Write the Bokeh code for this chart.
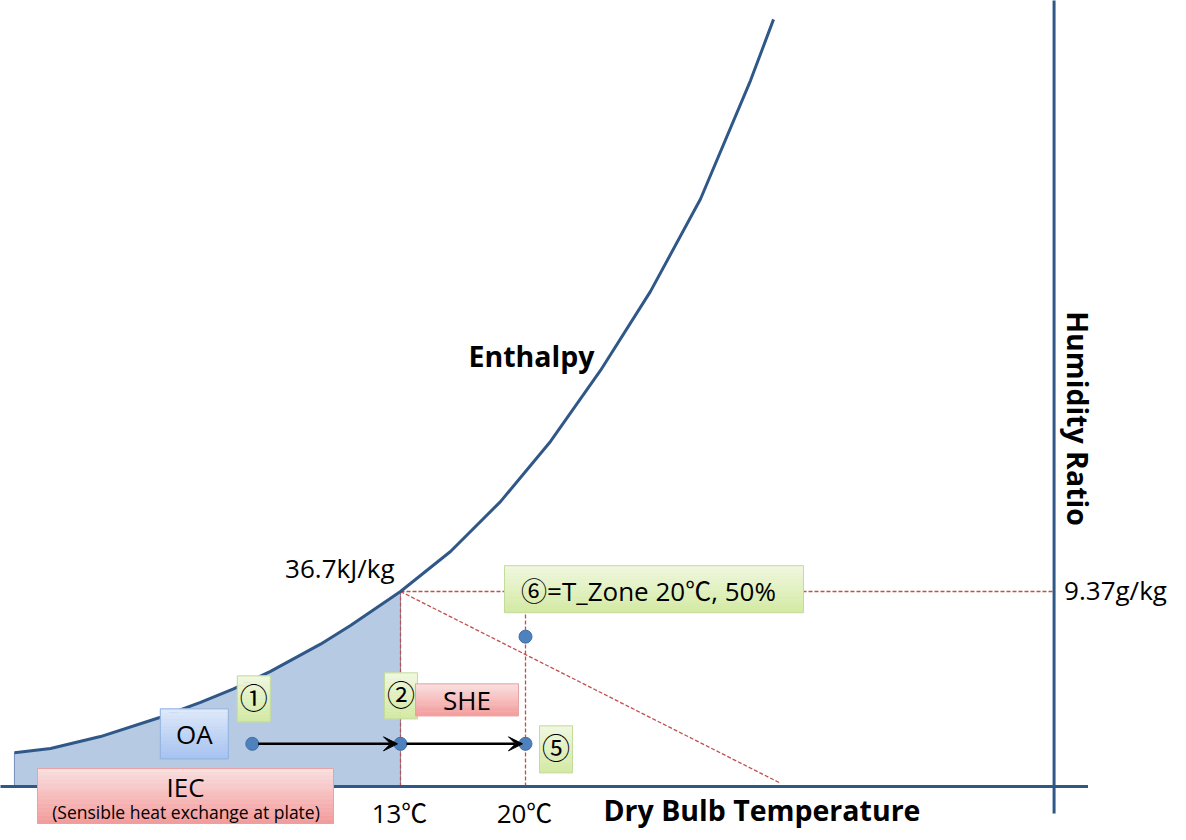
import math
from bokeh.plotting import figure
from bokeh.models import Range1d, Arrow, VeeHead
from bokeh.core.properties import value
from bokeh.embed import file_html
from bokeh.resources import INLINE

# ---------------- data ----------------
# saturation / enthalpy curve: dry-bulb temperature (°C) vs humidity ratio (g/kg)
curve_temp = [-8.62, -6.60, -3.80, -0.44, 1.80, 3.65, 5.72, 8.52, 10.20, 13.00,
              15.80, 18.60, 21.40, 24.20, 27.00, 29.80, 32.60, 33.89]
curve_hr = [1.62, 1.83, 2.40, 3.33, 4.04, 4.69, 5.53, 6.84, 7.74, 9.37,
            11.29, 13.69, 16.58, 19.99, 23.79, 28.23, 33.92, 36.86]

# state points
state_names = ["①", "②", "⑤", "⑥"]
state_temp = [4.7, 13.0, 20.0, 20.0]
state_hr = [2.05, 2.05, 2.05, 7.2]

# saturation reference point
sat_temp = 13.0
sat_hr = 9.37
sat_enthalpy_label = "36.7kJ/kg"
sat_hr_label = "9.37g/kg"

# constant enthalpy line
enth_line_temp = [13.0, 34.3]
enth_line_hr = [9.37, 0.15]

# axis ticks
temp_ticks = [13, 20]
temp_tick_labels = ["13℃", "20℃"]

# extents of the drawn axes
temp_axis_end = 51.5
hr_axis_temp = 49.6
hr_axis_bottom = -1.3

zone_label = "⑥=T_Zone 20℃, 50%"

# ---------------- layout ----------------
SX = 125.0 / 7.0          # px per °C
SY = 195.0 / 9.37         # px per g/kg
W, H = 1182, 836


def ox(px):
    return px / SX


def oy(px):               # screen px (down positive) -> data offset
    return -px / SY


FONT = value("Open Sans, Noto Sans CJK KR")
CURVE = "#2f5888"
RED = "#c0504d"

p = figure(width=W, height=H, output_backend="svg", toolbar_location=None,
           x_range=Range1d(13 - 400 / SX, 13 + (W - 400) / SX),
           y_range=Range1d(-(H - 786) / SY, 786 / SY),
           x_axis_location=None, y_axis_location=None,
           min_border=0, outline_line_color=None,
           background_fill_color="white", border_fill_color="white")
p.grid.grid_line_color = None

# shaded region under the curve up to 13 °C
shade_t = [t for t in curve_temp if t <= sat_temp]
shade_w = [w for t, w in zip(curve_temp, curve_hr) if t <= sat_temp]
p.patch(shade_t + [sat_temp, shade_t[0]], shade_w + [0, 0],
        fill_color="#b7cae3", line_color="#7390b8", line_width=1)

# red dashed guide lines
dash = dict(line_color=RED, line_width=1.3, line_dash="4 2")
p.line([sat_temp, hr_axis_temp], [sat_hr, sat_hr], **dash)
p.line([sat_temp, sat_temp], [0, sat_hr], **dash)
p.line([state_temp[3], state_temp[3]], [0, sat_hr], **dash)
p.line(enth_line_temp, enth_line_hr, **dash)

# axes lines
p.line([p.x_range.start - 1, temp_axis_end], [0, 0], line_color=CURVE, line_width=3)
p.line([hr_axis_temp, hr_axis_temp], [hr_axis_bottom, p.y_range.end + 1],
       line_color=CURVE, line_width=3)

# curve
p.line(curve_temp, curve_hr, line_color=CURVE, line_width=3, line_join="round")

# state points
p.scatter(state_temp, state_hr, size=13, fill_color="#4f81bd", line_color="#3e6fa8")

# arrows 1 -> 2 -> 5
for a, b in [(0, 1), (1, 2)]:
    p.add_layout(Arrow(end=VeeHead(size=14, fill_color="black", line_color="black", line_width=1),
                       x_start=state_temp[a] + ox(6), y_start=state_hr[a],
                       x_end=state_temp[b] - ox(3), y_end=state_hr[b],
                       line_color="black", line_width=2.5))


def mix(c1, c2, f):
    a = [int(c1[i:i + 2], 16) for i in (1, 3, 5)]
    b = [int(c2[i:i + 2], 16) for i in (1, 3, 5)]
    return "#%02x%02x%02x" % tuple(round(x + (y - x) * f) for x, y in zip(a, b))


def gbox(t, w, dx0, dx1, dy0, dy1, top, bot, edge, n=14):
    x0, x1 = t + ox(dx0), t + ox(dx1)
    for i in range(n):
        ya = w + oy(dy0 + (dy1 - dy0) * i / n)
        yb = w + oy(dy0 + (dy1 - dy0) * (i + 1) / n)
        c = mix(top, bot, (i + 0.5) / n)
        p.quad(left=x0, right=x1, top=ya, bottom=yb, fill_color=c, line_color=c, line_width=0.5)
    p.quad(left=x0, right=x1, top=w + oy(dy0), bottom=w + oy(dy1),
           fill_color=None, line_color=edge, line_width=1)


GREEN = ("#f0f8e0", "#d3e9a2", "#c3dc9c")
PINK = ("#fbe1e1", "#f29a9a", "#e6a3a3")
BLUE = ("#dfe9fa", "#a6c3f0", "#8eb0de")

REG = "26px"
BOLD = "28.5px"
CIRC = "28px"


def txt(x, y, s, size=REG, align="center", style="normal", angle=0.0):
    # y is the vertical middle of the capitals
    p.text(x=[x], y=[y], text=[s], text_font=FONT, text_font_size=size,
           text_align=align, text_baseline="middle", text_font_style=style,
           text_color="black", angle=angle)


t1, w1 = state_temp[0], state_hr[0]
t2, w2 = state_temp[1], state_hr[1]
t5, w5 = state_temp[2], state_hr[2]
t6, w6 = state_temp[3], state_hr[3]

# OA box
gbox(t1, w1, -92, -24, -35, 15, *BLUE)
txt(t1 + ox(-58), w1 + oy(-10), "OA")
# ① box
gbox(t1, w1, -15, 18, -68, -22, *GREEN)
txt(t1 + ox(1.5), w1 + oy(-46), state_names[0], size=CIRC)
# ② box
gbox(t2, w2, -16, 17, -71, -25, *GREEN)
txt(t2 + ox(0.5), w2 + oy(-49), state_names[1], size=CIRC)
# SHE box
gbox(t2, w2, 15, 118, -60, -28, *PINK)
txt(t2 + ox(66.5), w2 + oy(-44), "SHE")
# ⑤ box
gbox(t5, w5, 14, 47, -18, 29, *GREEN)
txt(t5 + ox(30.5), w5 + oy(4.5), state_names[2], size=CIRC)
# ⑥ zone box
gbox(t6, w6, -21, 278, -71, -24, *GREEN)
txt(t6 + ox(123), w6 + oy(-46), zone_label)
# IEC box
gbox(sat_temp, 0, -363, -67, -18, 37, *PINK)
txt(sat_temp + ox(-215), oy(0.5), "IEC")
txt(sat_temp + ox(-214.5), oy(25.5), "(Sensible heat exchange at plate)", size="17.5px")

# point / axis labels
txt(sat_temp + ox(-6), sat_hr + oy(-23.5), sat_enthalpy_label, align="right")
txt(hr_axis_temp + ox(10), sat_hr + oy(-1.5), sat_hr_label, align="left")
for t, lab in zip(temp_ticks, temp_tick_labels):
    txt(t + ox(-1), oy(26), lab)

txt(20 + ox(78), oy(23.5), "Dry Bulb Temperature", size=BOLD, align="left", style="bold")
txt(sat_temp + ox(68), sat_hr + oy(-235.5), "Enthalpy", size=BOLD, align="left", style="bold")
txt(hr_axis_temp + ox(23.5), sat_hr + oy(-173), "Humidity Ratio", size=BOLD,
    align="center", style="bold", angle=-math.pi / 2)

open("out.html", "w").write(file_html(p, INLINE))
